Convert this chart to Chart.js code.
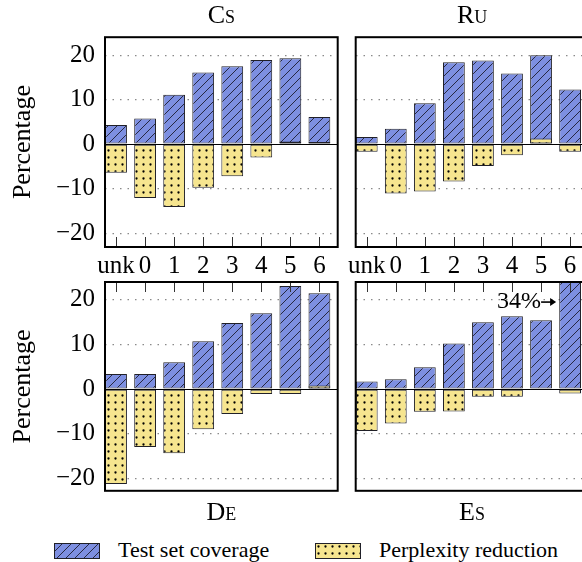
<!DOCTYPE html>
<html>
<head>
<meta charset="utf-8">
<script src="https://cdn.jsdelivr.net/npm/chart.js@4.4.0/dist/chart.umd.min.js"></script>
<style>
  html, body { margin: 0; padding: 0; overflow: hidden; background: #fff; }
  body { width: 582px; height: 562px; position: relative; font-family: 'Liberation Serif', serif; }
  canvas { position: absolute; }
  .key { position: absolute; top: 543px; }
  .keytext { position: absolute; top: 539px; font-size: 22px; line-height: 22px; color: #000; white-space: nowrap; }
</style>
</head>
<body>
<canvas id="cs" width="340" height="280" style="left:0;top:0"></canvas>
<canvas id="ru" width="250" height="280" style="left:340px;top:0"></canvas>
<canvas id="de" width="340" height="249" style="left:0;top:280px"></canvas>
<canvas id="es" width="250" height="249" style="left:340px;top:280px"></canvas>
<canvas id="keyCov" class="key" width="46" height="16" style="left:54px"></canvas>
<span class="keytext" style="left:118px">Test set coverage</span>
<canvas id="keyPpl" class="key" width="46" height="16" style="left:315px"></canvas>
<span class="keytext" style="left:379px">Perplexity reduction</span>
<script>
const bins = ['unk', '0', '1', '2', '3', '4', '5', '6'];
const yTicks = [-20, -10, 0, 10, 20];

const csCoverage = [4.3, 5.8, 11.1, 16.1, 17.5, 18.9, 19.3, 6.1];
const csPerplexity = [-6.4, -12.1, -14.1, -9.8, -7.2, -3.0, 0.6, 0.5];
const ruCoverage = [1.6, 3.5, 9.2, 18.4, 18.8, 15.9, 20.0, 12.3];
const ruPerplexity = [-1.7, -11.1, -10.6, -8.4, -4.9, -2.5, 1.3, -1.7];
const deCoverage = [3.4, 3.4, 6.0, 10.7, 14.8, 17.0, 23.1, 21.5];
const dePerplexity = [-21.3, -13.0, -14.4, -9.0, -5.6, -1.1, -1.1, 0.8];
const esCoverage = [1.7, 2.2, 4.9, 10.2, 15.0, 16.3, 15.4, 34];
const esPerplexity = [-9.4, -7.7, -5.1, -5.0, -1.7, -1.7, 0, -1.0];

Chart.defaults.font.family = "'Liberation Serif', 'Times New Roman', serif";
Chart.defaults.color = '#000';

// fill patterns: hatched blue, dotted yellow
function hatch() {
    const c = document.createElement('canvas');
    c.width = 9; c.height = 9;
    const g = c.getContext('2d');
    g.fillStyle = '#7d8fe1';
    g.fillRect(0, 0, 9, 9);
    g.strokeStyle = '#1c1c30';
    g.lineWidth = 0.9;
    g.beginPath();
    g.moveTo(-1, 10); g.lineTo(10, -1);
    g.moveTo(-1, 1); g.lineTo(1, -1);
    g.moveTo(8, 10); g.lineTo(10, 8);
    g.stroke();
    return g.createPattern(c, 'repeat');
}

function dots() {
    const c = document.createElement('canvas');
    c.width = 7; c.height = 7;
    const g = c.getContext('2d');
    g.fillStyle = '#f6e58f';
    g.fillRect(0, 0, 7, 7);
    g.fillStyle = '#000';
    g.beginPath();
    g.arc(3.5, 3.5, 1.15, 0, Math.PI * 2);
    g.fill();
    return g.createPattern(c, 'repeat');
}

const hatchFill = hatch();
const dotFill = dots();

// frame, zero line, inward x ticks and the optional note
const deco = {
    id: 'deco',
    afterDatasetsDraw(chart, args, opts) {
        const { ctx, chartArea: a, scales: { x, y } } = chart;
        ctx.save();
        ctx.strokeStyle = '#333';
        ctx.lineWidth = 1;
        ctx.beginPath();
        bins.forEach((_, i) => {
            const px = Math.round(x.getPixelForValue(i)) + 0.5;
            const y0 = opts.ticksTop ? a.top : a.bottom;
            ctx.moveTo(px, y0);
            ctx.lineTo(px, opts.ticksTop ? y0 + 10 : y0 - 10);
        });
        ctx.stroke();

        const zy = Math.round(y.getPixelForValue(0)) + 0.5;
        ctx.strokeStyle = '#000';
        ctx.beginPath();
        ctx.moveTo(a.left, zy);
        ctx.lineTo(a.right, zy);
        ctx.stroke();

        ctx.lineWidth = 2;
        ctx.strokeRect(a.left, a.top, a.width, a.height);

        if (opts.note) {
            const tipX = x.getPixelForValue(opts.note.at) - 14;
            const ny = y.getPixelForValue(opts.note.value);
            ctx.font = "24px 'Liberation Serif', serif";
            ctx.fillStyle = '#000';
            ctx.textAlign = 'right';
            ctx.textBaseline = 'middle';
            ctx.fillText(opts.note.text, tipX - 15, ny);
            // arrow
            ctx.lineWidth = 1.6;
            ctx.beginPath();
            ctx.moveTo(tipX - 15, ny);
            ctx.lineTo(tipX - 2, ny);
            ctx.stroke();
            ctx.beginPath();
            ctx.moveTo(tipX, ny);
            ctx.lineTo(tipX - 6, ny - 4);
            ctx.lineTo(tipX - 6, ny + 4);
            ctx.closePath();
            ctx.fill();
        }
        ctx.restore();
    }
};

function panel(id, name, coverage, perplexity, o) {
    return new Chart(document.getElementById(id), {
        type: 'bar',
        data: {
            datasets: [{
                label: 'Test set coverage',
                data: coverage.map((v, i) => ({ x: i, y: v })),
                backgroundColor: hatchFill,
                borderColor: '#202028',
                borderWidth: 1,
                borderSkipped: false,
                clip: 0,
                order: 1
            }, {
                label: 'Perplexity reduction',
                data: perplexity.map((v, i) => ({ x: i, y: v })),
                backgroundColor: dotFill,
                borderColor: '#202028',
                borderWidth: 1,
                borderSkipped: false,
                clip: 0,
                order: 0
            }]
        },
        options: {
            responsive: false,
            animation: false,
            layout: { padding: o.pad },
            datasets: { bar: { grouped: false, barPercentage: 0.75, categoryPercentage: 1 } },
            plugins: {
                legend: { display: false },
                tooltip: { enabled: false },
                title: {
                    display: true,
                    text: name,
                    position: o.titlePos,
                    fullSize: false,
                    font: { size: 26, weight: 'small-caps' },
                    padding: o.titlePad
                },
                deco: { ticksTop: o.ticksTop, note: o.note }
            },
            scales: {
                x: {
                    type: 'linear',
                    min: -0.38,
                    max: 7.63,
                    offset: false,
                    display: o.xLabels,
                    afterBuildTicks: s => { s.ticks = bins.map((_, i) => ({ value: i })); },
                    afterFit: s => { s.height = o.xLabels ? 33 : 0; },
                    grid: { display: false, offset: false },
                    border: { display: false },
                    ticks: {
                        callback: v => bins[v],
                        font: { size: 25 },
                        padding: -4,
                        maxRotation: 0,
                        autoSkip: false
                    }
                },
                y: {
                    min: o.yMin,
                    max: o.yMax,
                    afterBuildTicks: s => { s.ticks = yTicks.map(v => ({ value: v })); },
                    afterFit: s => {
                        s.width = o.yWidth;
                        s.paddingTop = 0;
                        s.paddingBottom = 0;
                    },
                    grid: {
                        color: c => c.tick && c.tick.value === 0 ? 'rgba(0,0,0,0)' : '#8a8a8a',
                        lineWidth: 1.3,
                        drawTicks: false
                    },
                    border: { display: false, dash: [1.5, 6] },
                    ticks: {
                        display: o.yLabels,
                        callback: v => v < 0 ? '\u2212' + (-v) : '' + v,
                        font: { size: 25 },
                        padding: 10
                    },
                    title: {
                        display: o.yLabels,
                        text: 'Percentage',
                        font: { size: 26 },
                        padding: { top: 8, bottom: 0 }
                    }
                }
            }
        },
        plugins: [deco]
    });
}

panel('cs', 'Cs', csCoverage, csPerplexity, {
    pad: { left: 0, top: 0, right: 2.3, bottom: 0 }, titlePos: 'top', titlePad: { top: 1, bottom: 5 },
    xLabels: true, yLabels: true, yWidth: 105, yMin: -23.1, yMax: 24.05, ticksTop: false
});
panel('ru', 'Ru', ruCoverage, ruPerplexity, {
    pad: { left: 0, top: 0, right: 1.6, bottom: 0 }, titlePos: 'top', titlePad: { top: 1, bottom: 5 },
    xLabels: true, yLabels: false, yWidth: 15.7, yMin: -23.1, yMax: 24.05, ticksTop: false
});
panel('de', 'De', deCoverage, dePerplexity, {
    pad: { left: 0, top: 2, right: 2.3, bottom: 0 }, titlePos: 'bottom', titlePad: { top: 7, bottom: 0 },
    xLabels: false, yLabels: true, yWidth: 105, yMin: -22.8, yMax: 24.0, ticksTop: true
});
panel('es', 'Es', esCoverage, esPerplexity, {
    pad: { left: 0, top: 2, right: 1.6, bottom: 0 }, titlePos: 'bottom', titlePad: { top: 7, bottom: 0 },
    xLabels: false, yLabels: false, yWidth: 15.7, yMin: -22.8, yMax: 24.0, ticksTop: true,
    note: { text: esCoverage[7] + '%', at: 7, value: 19.5 }
});

function swatch(id, fill) {
    const c = document.getElementById(id);
    const g = c.getContext('2d');
    g.fillStyle = fill;
    g.fillRect(0, 0, c.width, c.height);
    g.strokeStyle = '#202028';
    g.lineWidth = 1;
    g.strokeRect(0.5, 0.5, c.width - 1, c.height - 1);
}
swatch('keyCov', hatchFill);
swatch('keyPpl', dotFill);
</script>
</body>
</html>
